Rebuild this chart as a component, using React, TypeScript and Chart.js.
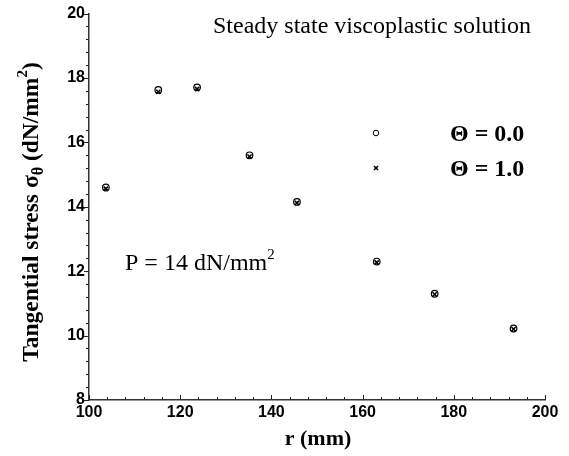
import React, { useEffect, useRef } from "react";
import { Chart, registerables } from "chart.js";

Chart.register(...registerables);

// ---- data ----
const rTheta0 = [103.7, 115.2, 123.7, 135.2, 145.6, 163.1, 175.8, 193.1];
const sTheta0 = [14.6, 17.63, 17.71, 15.6, 14.15, 12.3, 11.3, 10.22];
const rTheta1 = [103.7, 115.2, 123.7, 135.2, 145.6, 163.1, 175.8, 193.1];
const sTheta1 = [14.56, 17.57, 17.66, 15.56, 14.12, 12.27, 11.28, 10.2];

const xTickValues = [100, 120, 140, 160, 180, 200];
const yTickValues = [8, 10, 12, 14, 16, 18, 20];
const xMinorStep = 4;
const yMinorStep = 0.4;

const legendLabels = ["\u0398 = 0.0", "\u0398 = 1.0"];
const titleText = "Steady state viscoplastic solution";
const pressureText = "P = 14 dN/mm";

const SERIF = "'Liberation Serif', 'Times New Roman', serif";
const SANS = "'Liberation Sans', Arial, sans-serif";

type Seg = { text: string; font: string; dy?: number };

function drawRich(ctx: CanvasRenderingContext2D, segs: Seg[], x: number, y: number, align: "left" | "center") {
  ctx.textBaseline = "alphabetic";
  ctx.textAlign = "left";
  let total = 0;
  for (const s of segs) {
    ctx.font = s.font;
    total += ctx.measureText(s.text).width;
  }
  let cx = align === "center" ? x - total / 2 : x;
  for (const s of segs) {
    ctx.font = s.font;
    ctx.fillText(s.text, cx, y + (s.dy || 0));
    cx += ctx.measureText(s.text).width;
  }
}

const decorPlugin = {
  id: "decor",
  afterDraw(chart: any) {
    const ctx: CanvasRenderingContext2D = chart.ctx;
    const xs = chart.scales.x;
    const ys = chart.scales.y;
    const area = chart.chartArea;
    ctx.save();
    // minor / major tick marks
    ctx.strokeStyle = "#222";
    ctx.lineWidth = 1;
    const nY = Math.round((ys.max - ys.min) / yMinorStep);
    for (let i = 0; i <= nY; i++) {
      const v = ys.min + i * yMinorStep;
      const py = Math.round(ys.getPixelForValue(v)) + 0.5;
      const len = i % 5 === 0 ? 5 : 3;
      ctx.beginPath();
      ctx.moveTo(area.left - len, py);
      ctx.lineTo(area.left, py);
      ctx.stroke();
    }
    const nX = Math.round((xs.max - xs.min) / xMinorStep);
    for (let i = 0; i <= nX; i++) {
      const v = xs.min + i * xMinorStep;
      const px = Math.round(xs.getPixelForValue(v)) + 0.5;
      const len = i % 5 === 0 ? 5 : 3;
      ctx.beginPath();
      ctx.moveTo(px, area.bottom);
      ctx.lineTo(px, area.bottom - len);
      ctx.stroke();
    }

    ctx.fillStyle = "#000";
    // title
    drawRich(ctx, [{ text: titleText, font: `24px ${SERIF}` }], 213, 33, "left");

    // legend
    const lx = 376;
    const ly0 = 133;
    const ly1 = 168;
    ctx.strokeStyle = "#000";
    ctx.lineWidth = 1;
    ctx.beginPath();
    ctx.arc(lx, ly0, 2.8, 0, Math.PI * 2);
    ctx.stroke();
    ctx.lineWidth = 1.6;
    ctx.beginPath();
    ctx.moveTo(lx - 2, ly1 - 2);
    ctx.lineTo(lx + 2, ly1 + 2);
    ctx.moveTo(lx + 2, ly1 - 2);
    ctx.lineTo(lx - 2, ly1 + 2);
    ctx.stroke();
    drawRich(ctx, [{ text: legendLabels[0], font: `bold 24px ${SERIF}` }], 450, 141, "left");
    drawRich(ctx, [{ text: legendLabels[1], font: `bold 24px ${SERIF}` }], 450, 176, "left");

    // pressure annotation
    drawRich(
      ctx,
      [
        { text: pressureText, font: `24px ${SERIF}` },
        { text: "2", font: `15px ${SERIF}`, dy: -11 },
      ],
      125,
      270,
      "left"
    );

    // x axis title
    drawRich(ctx, [{ text: "r (mm)", font: `bold 22px ${SERIF}` }], 318, 445, "center");

    // y axis title
    ctx.save();
    ctx.translate(38, 212);
    ctx.rotate(-Math.PI / 2);
    drawRich(
      ctx,
      [
        { text: "Tangential stress \u03c3", font: `bold 23.5px ${SERIF}` },
        { text: "\u03b8", font: `bold 16px ${SERIF}`, dy: 5 },
        { text: " (dN/mm", font: `bold 23.5px ${SERIF}` },
        { text: "2", font: `bold 15px ${SERIF}`, dy: -11 },
        { text: ")", font: `bold 23.5px ${SERIF}` },
      ],
      0,
      0,
      "center"
    );
    ctx.restore();
    ctx.restore();
  },
};

export default function App() {
  const ref = useRef<HTMLCanvasElement | null>(null);
  useEffect(() => {
    document.body.style.margin = "0";
    const canvas = ref.current;
    if (!canvas) return;
    const chart = new Chart(canvas, {
      type: "scatter",
      data: {
        datasets: [
          {
            label: legendLabels[0],
            data: rTheta0.map((r, i) => ({ x: r, y: sTheta0[i] })),
            pointStyle: "circle",
            pointRadius: 3.3,
            borderWidth: 1.2,
            borderColor: "#000",
            backgroundColor: "rgba(0,0,0,0)",
          },
          {
            label: legendLabels[1],
            data: rTheta1.map((r, i) => ({ x: r, y: sTheta1[i] })),
            pointStyle: "crossRot",
            pointRadius: 3,
            borderWidth: 1.6,
            borderColor: "#000",
            backgroundColor: "#000",
          },
        ],
      },
      options: {
        responsive: false,
        animation: false,
        layout: { padding: { top: 12, right: 24, left: 0, bottom: 0 } },
        plugins: { legend: { display: false }, tooltip: { enabled: false } },
        scales: {
          x: {
            type: "linear",
            min: xTickValues[0],
            max: xTickValues[xTickValues.length - 1],
            afterBuildTicks: (s: any) => {
              s.ticks = xTickValues.map((v) => ({ value: v }));
            },
            afterFit: (s: any) => {
              s.height = 56;
            },
            grid: { display: false, drawTicks: false },
            border: { display: true, color: "#333", width: 1.5 },
            ticks: {
              color: "#000",
              padding: 3,
              maxRotation: 0,
              font: { family: SANS, size: 16, weight: "bold" },
            },
          },
          y: {
            type: "linear",
            min: yTickValues[0],
            max: yTickValues[yTickValues.length - 1],
            afterBuildTicks: (s: any) => {
              s.ticks = yTickValues.map((v) => ({ value: v }));
            },
            afterFit: (s: any) => {
              s.width = 89;
            },
            grid: { display: false, drawTicks: false },
            border: { display: true, color: "#333", width: 1.5 },
            ticks: {
              color: "#000",
              padding: 4,
              font: { family: SANS, size: 16, weight: "bold" },
            },
          },
        },
      },
      plugins: [decorPlugin],
    } as any);
    return () => chart.destroy();
  }, []);
  return (
    <div style={{ position: "relative", width: 569, height: 456 }}>
      <canvas ref={ref} width={569} height={456} style={{ display: "block" }} />
    </div>
  );
}
